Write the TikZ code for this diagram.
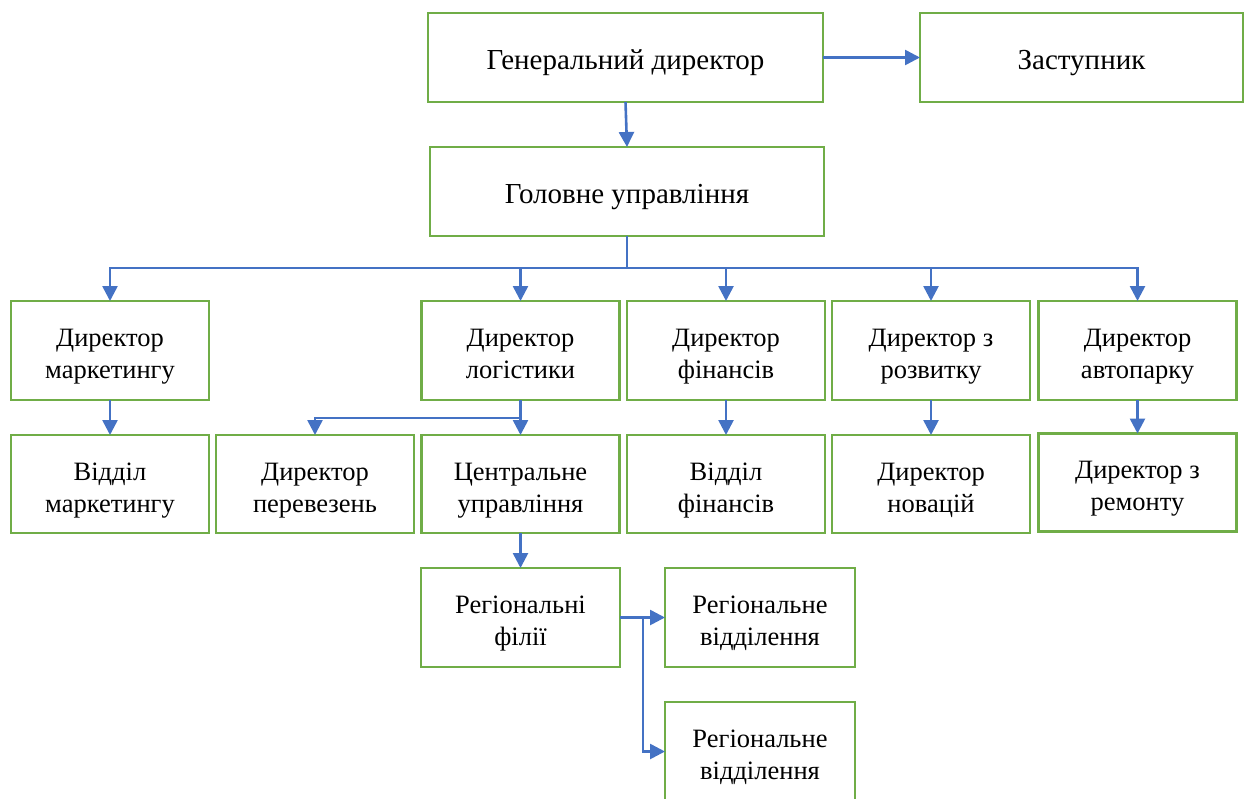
\documentclass[tikz,border=0pt]{standalone}
\usepackage{fontspec}
\setmainfont{Liberation Serif}
\usetikzlibrary{arrows.meta,calc}
\definecolor{bgreen}{HTML}{70AD47}
\definecolor{ablue}{HTML}{4472C4}
\newcommand\boxtext[2][12pt]{\raisebox{-#1}[0pt][0pt]{\begin{tabular}{@{}c@{}}#2\end{tabular}}}
\begin{document}
\begin{tikzpicture}[x=1pt,y=-1pt,
  box/.style={draw=bgreen, line width=2.4pt, fill=white, inner sep=0pt, outer sep=0pt,
    align=center, font=\fontsize{26.5}{32}\selectfont},
  topbox/.style={box, font=\fontsize{29}{33}\selectfont},
  conn/.style={draw=ablue, line width=2.6pt, -{Triangle[length=15pt,width=15pt]}}]
\useasboundingbox (0,0) rectangle (1249,798);
% top
\node[topbox, minimum width=395pt, minimum height=89pt] (gd) at (625.5,57.5) {\boxtext{Генеральний директор}};
\node[topbox, minimum width=323pt, minimum height=89pt] (zas) at (1081.5,57.5) {\boxtext{Заступник}};
\node[topbox, minimum width=394pt, minimum height=89pt] (gu) at (627,191.5) {\boxtext{Головне управління}};
% row 1
\node[box, minimum width=198pt, minimum height=99pt] (dm) at (110,350.5) {\boxtext{Директор\\маркетингу}};
\node[box, minimum width=198pt, minimum height=99pt] (dl) at (520.5,350.5) {\boxtext{Директор\\логістики}};
\node[box, minimum width=198pt, minimum height=99pt] (df) at (726,350.5) {\boxtext{Директор\\фінансів}};
\node[box, minimum width=198pt, minimum height=99pt] (dr) at (931,350.5) {\boxtext{Директор з\\розвитку}};
\node[box, minimum width=198pt, minimum height=99pt] (da) at (1137.5,350.5) {\boxtext{Директор\\автопарку}};
% row 2
\node[box, minimum width=198pt, minimum height=98pt] (vm) at (110,484) {\boxtext{Відділ\\маркетингу}};
\node[box, minimum width=198pt, minimum height=98pt] (dp) at (315,484) {\boxtext{Директор\\перевезень}};
\node[box, minimum width=198pt, minimum height=98pt] (cu) at (520.5,484) {\boxtext{Центральне\\управління}};
\node[box, minimum width=198pt, minimum height=98pt] (vf) at (726,484) {\boxtext{Відділ\\фінансів}};
\node[box, minimum width=198pt, minimum height=98pt] (dn) at (931,484) {\boxtext{Директор\\новацій}};
\node[box, minimum width=198pt, minimum height=98pt] (dre) at (1137.5,482.5) {\boxtext{Директор з\\ремонту}};
% regional
\node[box, minimum width=199pt, minimum height=99pt] (rf) at (520.5,617.5) {\boxtext{Регіональні\\філії}};
\node[box, minimum width=190pt, minimum height=99pt] (rv1) at (760,617.5) {\boxtext{Регіональне\\відділення}};
\node[box, minimum width=190pt, minimum height=99pt] (rv2) at (760,751.5) {\boxtext{Регіональне\\відділення}};
% connectors
\draw[conn] (gd.east) -- (zas.west);
\draw[conn] (gd.south) -- (gu.north);
\coordinate (b) at (627,268);
\draw[conn] (gu.south) -- (gu.south |- b) -| (dm.north);
\draw[conn] (gu.south) -- (gu.south |- b) -| (da.north);
\draw[conn] (dl.north |- b) -- (dl.north);
\draw[conn] (df.north |- b) -- (df.north);
\draw[conn] (dr.north |- b) -- (dr.north);
\draw[conn] (dm.south) -- (vm.north);
\draw[conn] (df.south) -- (vf.north);
\draw[conn] (dr.south) -- (dn.north);
\draw[conn] (da.south) -- (dre.north);
\path (dl.south) ++(0,18) coordinate (lb);
\draw[conn] (dl.south) -- (cu.north);
\draw[conn] (dl.south) -- (lb) -| (dp.north);
\draw[conn] (cu.south) -- (rf.north);
\draw[conn] (rf.east) -- (rv1.west);
\path (rf.east) ++(23,0) coordinate (rb);
\draw[conn] (rb) |- (rv2.west);
\end{tikzpicture}
\end{document}
